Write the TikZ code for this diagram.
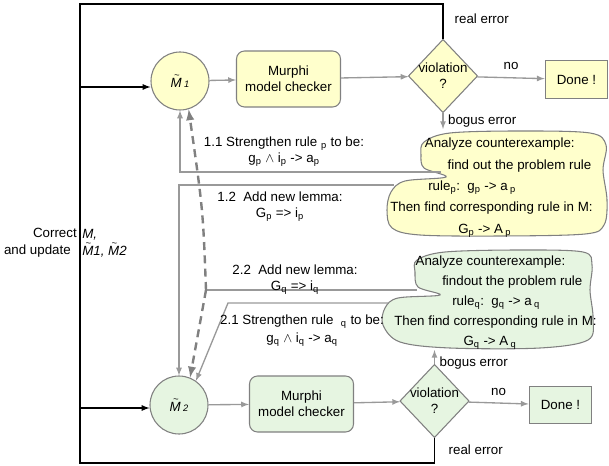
\documentclass[tikz,border=0pt]{standalone}
\usepackage{fontspec}
\setmainfont{Liberation Sans}
\usetikzlibrary{shapes.geometric}
\definecolor{pale}{HTML}{FFFFCC}
\definecolor{mint}{HTML}{E6F5E1}
\definecolor{rim}{HTML}{808080}
\definecolor{linegray}{HTML}{999999}
\newcommand{\tildeM}{\makebox[0pt][l]{\hspace{2.5pt}\raisebox{6.5pt}{\scriptsize\~{}}}M}

\begin{document}
\begin{tikzpicture}[>=latex, x=0.75pt, y=-0.75pt,
  every node/.style={font=\fontsize{10}{12}\selectfont},
  ball/.style={draw=rim, line width=0.8pt, circle, minimum size=43.5pt, inner sep=0pt},
  checker/.style={draw=rim, line width=0.8pt, rounded corners=6pt, minimum width=78pt, minimum height=42pt, align=center},
  check/.style={draw=rim, line width=0.8pt, diamond, minimum width=52pt, minimum height=55pt, inner sep=0pt},
  donebox/.style={draw=rim, line width=0.8pt, minimum width=47pt, minimum height=28pt},
  wire/.style={draw=linegray, line width=1pt},
  backline/.style={draw=black, line width=1pt},
  dashlink/.style={draw=rim, line width=1.8pt, dash pattern=on 6pt off 4pt},
  blob/.style={draw=rim, line width=0.8pt},
  say/.style={align=center, inner sep=0pt}
]
\useasboundingbox (0,0) rectangle (609,466);

% first round
\node[ball, fill=pale] (M1) at (180,81) {\itshape\tildeM\,{\scriptsize 1}};
\node[checker, fill=pale] (mc1) at (288.5,79) {Murphi\\model checker};
\node[check, fill=pale, label={[align=center]center:violation\\?}] (d1) at (443,76) {};
\node[donebox, fill=pale] (done1) at (576.5,79.5) {Done !};

% second round
\node[ball, fill=mint] (M2) at (179,405) {\itshape\tildeM\,{\scriptsize 2}};
\node[checker, fill=mint] (mc2) at (301.5,404) {Murphi\\model checker};
\node[check, fill=mint, label={[align=center]center:violation\\?}] (d2) at (434.5,401) {};
\node[donebox, fill=mint] (done2) at (560.5,405) {Done !};

% clouds
\draw[blob, fill=pale] plot[smooth cycle, tension=0.55] coordinates {(424,142) (450,133) (520,131) (590,133) (606,145) (603,170) (607,200) (604,225) (585,234) (500,236) (420,235) (392,228) (387,210) (391,192) (405,181) (446,177) (424,168) (421,155)};
\draw[blob, fill=mint] plot[smooth cycle, tension=0.55] coordinates {(417,260) (445,252) (520,250) (583,252) (592,265) (590,290) (593,318) (588,340) (540,348) (450,348) (400,342) (383,325) (385,308) (398,298) (440,295) (418,287) (415,272)};

\node[anchor=west, align=left, inner sep=0pt, font=\fontsize{10}{16}\selectfont] (t1) at (390,187.5) {\hspace*{26pt}Analyze counterexample:\\
\hspace*{43pt}find out the problem rule\\
\hspace*{28.5pt}rule\textsubscript{p}:\ \ g\textsubscript{p} -> a\,\textsubscript{p}\\
Then find corresponding rule in M:\\
\hspace*{51pt}G\textsubscript{p} -> A\,\textsubscript{p}};
\node[anchor=west, align=left, inner sep=0pt, font=\fontsize{10}{15}\selectfont] (t2) at (394,303) {\hspace*{16pt}Analyze counterexample:\\
\hspace*{36pt}findout the problem rule\\
\hspace*{43.5pt}rule\textsubscript{q}:\ \ g\textsubscript{q} -> a\,\textsubscript{q}\\
Then find corresponding rule in M:\\
\hspace*{52pt}G\textsubscript{q} -> A\,\textsubscript{q}};

% ends on the clouds and the loop
\coordinate (b1) at (443,129);
\coordinate (b2) at (434.5,350);
\coordinate (c11) at (441,172);
\coordinate (c12) at (394,185);
\coordinate (c22) at (417,290);
\coordinate (c21) at (388,303);
\coordinate (k21) at (228,303);
\coordinate (J) at (206,290);
\coordinate (tl) at (80,4);
\coordinate (bl) at (80,463);
\coordinate (in1) at (80,87);
\coordinate (in2) at (80,408);

% main flow
\draw[wire, ->] (M1) -- (mc1);
\draw[wire, ->] (mc1) -- (d1);
\draw[wire, ->] (d1) -- (done1) node[midway, above=2pt, black]{no};
\draw[wire, ->] (d1.south) -- (b1) node[midway, right, black]{bogus error};
\draw[wire, ->] (M2) -- (mc2);
\draw[wire, ->] (mc2) -- (d2);
\draw[wire, ->] (d2) -- (done2) node[midway, above=2pt, black]{no};
\draw[wire, ->] (d2.north) -- (b2) node[pos=0.05, right, black]{bogus error};

% real error loop
\draw[backline] (d1.north) |- (tl) -- (bl) -| (d2.south);
\node[anchor=west] (re1) at (450,19) {real error};
\node[anchor=west] (re2) at (444,450) {real error};
\draw[backline, ->] (in1) -- (M1.west |- in1);
\draw[backline, ->] (in2) -- (M2.west |- in2);
\node[anchor=east, align=right, inner sep=0pt, font=\fontsize{10}{13}\selectfont] (corr) at (77,243) {Correct\\and update\hspace*{4.5pt}};
\node[anchor=west, align=left, inner sep=0pt, font=\fontsize{10}{13}\selectfont] (mupd) at (82,243) {\itshape M,\\\itshape\tildeM1, \tildeM2};

% fixes
\draw[wire, ->] (c11) -| (M1.south);
\draw[wire, ->] (c12) -| (M2.north);
\draw[wire] (c22) -- (J);
\draw[wire, ->] (c21) -- (k21) -- (M2.55);
\draw[dashlink, ->] (J) .. controls (203,210) .. (M1.287);
\draw[dashlink, ->] (J) -- (M2.68);

\node[say] (s11) at (284,152) {1.1 Strengthen rule \textsubscript{p} to be:\\g\textsubscript{p} $\land$ i\textsubscript{p} -> a\textsubscript{p}};
\node[say] (s12) at (280,207) {1.2\ \ Add new lemma:\\G\textsubscript{p} => i\textsubscript{p}};
\node[say] (s22) at (295,280) {2.2\ \ Add new lemma:\\G\textsubscript{q} => i\textsubscript{q}};
\node[say, font=\fontsize{10}{13.5}\selectfont] (s21) at (302,331) {2.1 Strengthen rule\ \ \textsubscript{q} to be:\\g\textsubscript{q} $\land$ i\textsubscript{q} -> a\textsubscript{q}};

\end{tikzpicture}
\end{document}
